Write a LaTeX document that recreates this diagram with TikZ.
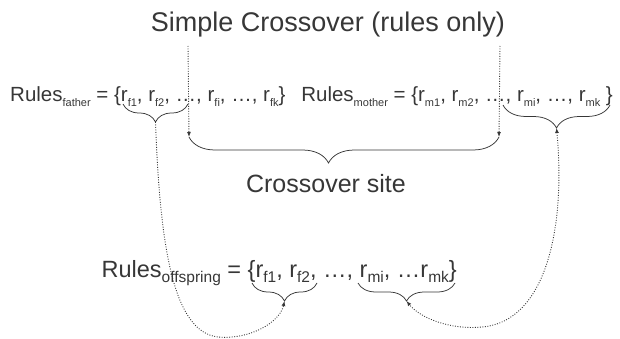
\documentclass[tikz,border=0pt]{standalone}
\usepackage{fontspec}
\setmainfont{Liberation Sans}
\usetikzlibrary{arrows.meta,decorations.pathreplacing}
\definecolor{ink}{RGB}{55,55,55}
\newcommand\smsub[1]{\raisebox{-0.45ex}{\fontsize{11}{11}\selectfont #1}}
\newcommand\lgsub[1]{\raisebox{-0.45ex}{\fontsize{15.5}{15.5}\selectfont #1}}
\tikzset{
  txt/.style={inner sep=0pt,text=ink},
  bracedown/.style={draw=ink,line width=0.75pt,decorate,decoration={brace,mirror,amplitude=#1}},
  dotline/.style={draw=ink,line width=0.9pt,dash pattern=on 0.9pt off 1.6pt},
  tip/.style={-{Latex[length=5pt,width=4pt]}},
  tips/.style={{Latex[length=5pt,width=4pt]}-{Latex[length=5pt,width=4pt]}}
}
\begin{document}
\begin{tikzpicture}[x=1pt,y=-1pt]
\useasboundingbox (0,0) rectangle (620,339);
% title
\node[txt,anchor=base,font=\fontsize{27}{27}\selectfont] (title) at (328,32) {Simple Crossover (rules only)};
% parents
\node[txt,anchor=base west,font=\fontsize{20.5}{20.5}\selectfont] (father) at (10,102)
  {Rules\smsub{father} = \{r\smsub{f1}, r\smsub{f2}, \ldots, r\smsub{fi}, \ldots, r\smsub{fk}\}};
\node[txt,anchor=base east,font=\fontsize{20.5}{20.5}\selectfont] (mother) at (613,102)
  {Rules\smsub{mother} = \{r\smsub{m1}, r\smsub{m2}, \ldots, r\smsub{mi}, \ldots, r\smsub{mk} \}};
% crossover site
\node[txt,anchor=base,font=\fontsize{25}{25}\selectfont] (site) at (326,192) {Crossover site};
% offspring
\node[txt,anchor=base east,font=\fontsize{23.5}{23.5}\selectfont] (off) at (457,277)
  {Rules\lgsub{offspring} = \{r\lgsub{f1}, r\lgsub{f2}, \ldots, r\lgsub{mi}, \ldots r\lgsub{mk}\}};
% coordinates
\coordinate (xtopA) at (188,46);
\coordinate (xtopB) at (500,46);
\coordinate (xl) at (189,137);
\coordinate (xr) at (499,137);
\coordinate (fb1) at (123,104);
\coordinate (fb2) at (188,104);
\coordinate (fbt) at (155.5,122);
\coordinate (mb1) at (503,105);
\coordinate (mb2) at (610,105);
\coordinate (mbt) at (556.5,128);
\coordinate (ob1a) at (252,283);
\coordinate (ob1b) at (317,283);
\coordinate (ob1t) at (284.5,301);
\coordinate (ob2a) at (358,283);
\coordinate (ob2b) at (455,283);
\coordinate (ob2t) at (406.5,301);
% braces
\draw[bracedown=18pt] (fb1) -- (fb2);
\draw[bracedown=23pt] (mb1) -- (mb2);
\draw[bracedown=26pt,decoration={aspect=0.45}] (xl) -- (xr);
\draw[bracedown=18pt] (ob1a) -- (ob1b);
\draw[bracedown=18pt] (ob2a) -- (ob2b);
% crossover lines
\draw[dotline,tip] (xtopA) -- (xl);
\draw[dotline,tip] (xtopB) -- (xr);
% inheritance curves
\draw[dotline,tip] (fbt) .. controls (160,250) and (174,332) .. (218,337)
   .. controls (250,340) and (280,322) .. (ob1t);
\draw[dotline,tips] (mbt) .. controls (566,230) and (545,322) .. (482,327)
   .. controls (450,330) and (420,318) .. (ob2t);
\end{tikzpicture}
\end{document}
